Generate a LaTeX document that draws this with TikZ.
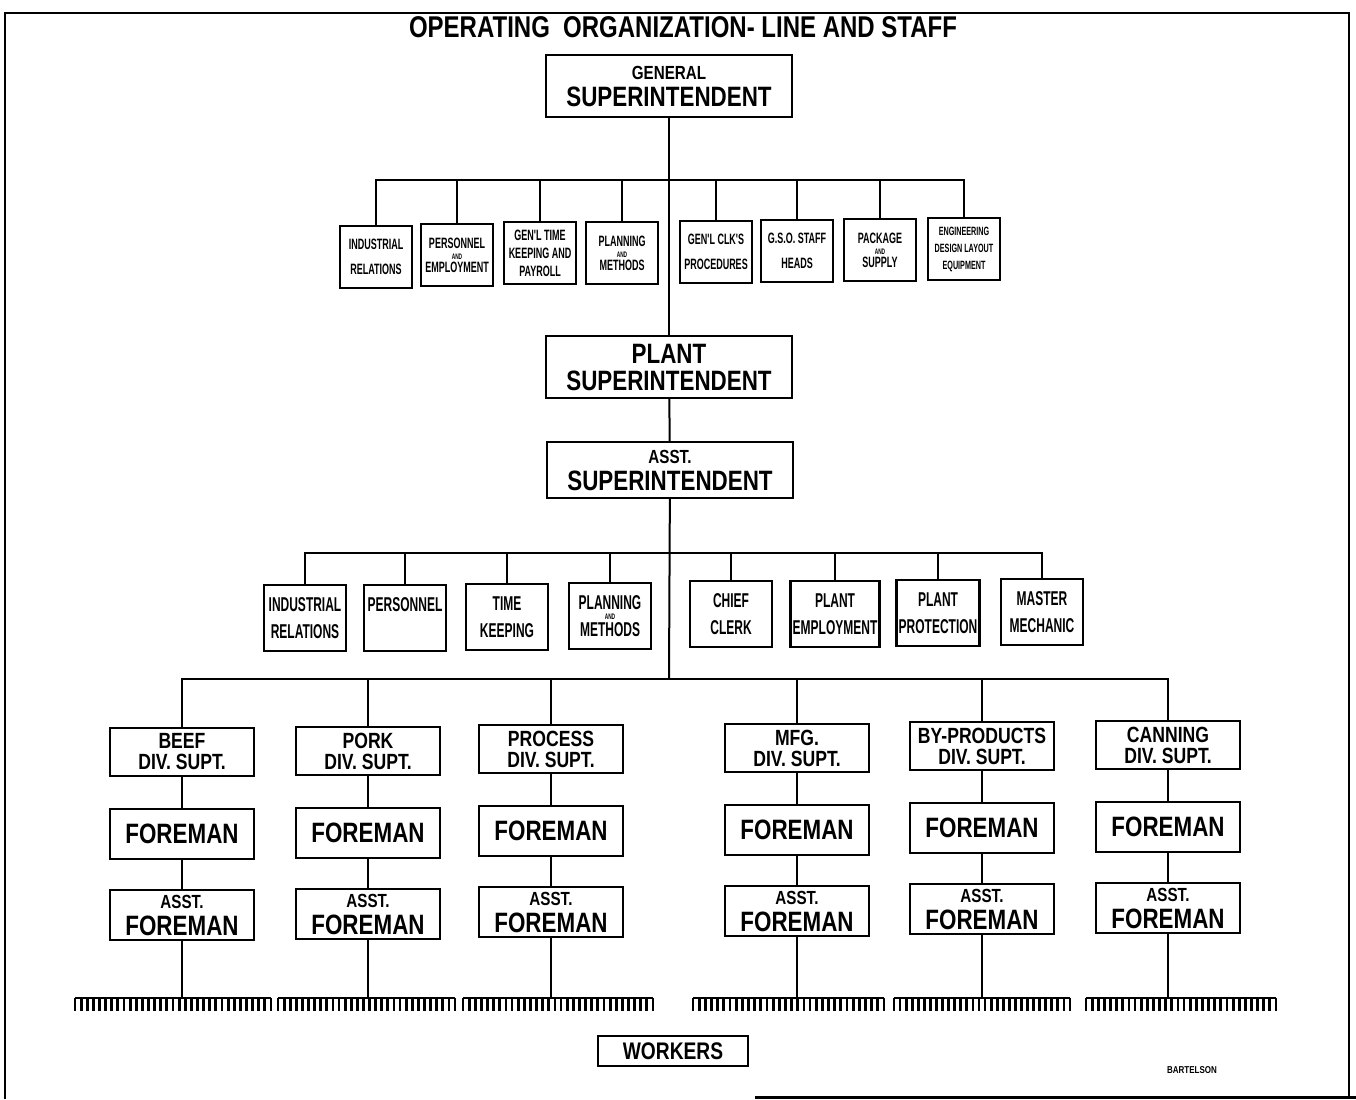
\documentclass[tikz,border=0pt]{standalone}
\usepackage{fontspec}
\setmainfont{Liberation Sans}[FakeStretch=0.8]
\newfontfamily\narrowsf{Liberation Sans}[FakeStretch=0.6]
\usetikzlibrary{positioning}
\newcommand{\andw}{{\fontsize{4}{4}\selectfont AND}}
\newcommand{\hdw}[1]{{\bfseries\fontsize{9.5}{9.5}\selectfont #1}}

\begin{document}
\begin{tikzpicture}[x=0.5pt,y=-0.5pt,
  box/.style={draw,line width=1.2pt,align=center,inner sep=1pt},
  head/.style={box,minimum width=123pt,minimum height=31pt,font=\bfseries\fontsize{14}{13.5}\selectfont},
  staffa/.style={box,minimum width=36pt,minimum height=31pt,font=\narrowsf\bfseries\fontsize{7.5}{12.5}\selectfont},
  staffb/.style={box,minimum width=41pt,minimum height=33pt,font=\narrowsf\bfseries\fontsize{10}{13.5}\selectfont},
  divbox/.style={box,minimum width=72pt,minimum height=24pt,font=\bfseries\fontsize{11}{10.5}\selectfont},
  forebox/.style={box,minimum width=72pt,minimum height=25pt,font=\bfseries\fontsize{14}{13.5}\selectfont},
  conn/.style={line width=1pt},
  comb/.style={line width=1.4pt}]
\useasboundingbox (0,0) rectangle (1356,1099);
% frame
\draw[line width=1.2pt] (5,1099) -- (5,13) -- (1349,13) -- (1349,1099);
\draw[line width=1.5pt] (755,1097) -- (1356,1097);

\node[font=\bfseries\fontsize{15}{15}\selectfont] (title) at (683,27) {OPERATING\ \ ORGANIZATION- LINE AND STAFF};

% line
\node[head] (gs) at (669,86) {\hdw{GENERAL}\\SUPERINTENDENT};
\node[head] (ps) at (669,367) {PLANT\\SUPERINTENDENT};
\node[head,minimum height=28pt] (as) at (670,470) {\hdw{ASST.}\\SUPERINTENDENT};
\draw[conn] (gs) -- (ps);
\draw[conn] (ps) -- (as);

% general staff
\coordinate (bus1) at (669,180);
\node[staffa] (s1) at (376,257) {INDUSTRIAL\\RELATIONS};
\node[staffa] (s2) at (457,255) {PERSONNEL\\[-7pt]\andw\\[-6pt]EMPLOYMENT};
\node[staffa] (s3) at (540,253) {GEN'L TIME\\[-3.5pt]KEEPING AND\\[-3.5pt]PAYROLL};
\node[staffa] (s4) at (622,253) {PLANNING\\[-7pt]\andw\\[-6pt]METHODS};
\node[staffa] (s5) at (716,252) {GEN'L CLK'S\\PROCEDURES};
\node[staffa] (s6) at (797,251) {G.S.O. STAFF\\HEADS};
\node[staffa] (s7) at (880,250) {PACKAGE\\[-7pt]\andw\\[-6pt]SUPPLY};
\node[staffa,font=\narrowsf\bfseries\fontsize{6}{12.5}\selectfont] (s8) at (964,249) {ENGINEERING\\[-4pt]DESIGN LAYOUT\\[-4pt]EQUIPMENT};
\foreach \s in {s1,s2,s3,s4,s5,s6,s7,s8}
  \draw[conn] (\s.north) |- (bus1);

% plant staff
\coordinate (bus2) at (669,553);
\node[staffb] (r1) at (305,618) {INDUSTRIAL\\RELATIONS};
\node[staffb] (r2) at (405,618) {PERSONNEL\\~};
\node[staffb] (r3) at (507,617) {TIME\\KEEPING};
\node[staffb] (r4) at (610,616) {PLANNING\\[-8.5pt]\andw\\[-5pt]METHODS};
\node[staffb] (r5) at (731,614) {CHIEF\\CLERK};
\node[staffb] (r6) at (835,614) {PLANT\\EMPLOYMENT};
\node[staffb] (r7) at (938,613) {PLANT\\PROTECTION};
\node[staffb] (r8) at (1042,612) {MASTER\\MECHANIC};
\foreach \r in {r1,r2,r3,r4,r5,r6,r7,r8}
  \draw[conn] (\r.north) |- (bus2);

% divisions
\coordinate (bus3) at (669,679);
\draw[conn] (as) -- (bus3);
\foreach \i/\x/\dy/\dname in {1/182/0/BEEF,2/368/-1/PORK,3/551/-3/PROCESS,
    4/797/-4/MFG.,5/982/-6/BY-PRODUCTS,6/1168/-7/CANNING}{
  \node[divbox] (d\i) at (\x,752+\dy) {\dname\\DIV. SUPT.};
  \node[forebox] (f\i) at (\x,834+\dy) {FOREMAN};
  \node[forebox] (a\i) at (\x,915+\dy) {\hdw{ASST.}\\FOREMAN};
  \coordinate (w\i) at (\x,998);
  \draw[conn] (d\i.north) |- (bus3);
  \draw[conn] (d\i) -- (f\i);
  \draw[conn] (f\i) -- (a\i);
  \draw[conn] (a\i) -- (w\i);
}

% workers
\foreach \xa/\xb/\n in {75/271/32,278/455/29,463/653/31,693/884/31,894/1070/29,1086/1276/31}{
  \draw[conn] (\xa,998) -- (\xb,998);
  \foreach \k in {0,...,\n}
    \draw[comb] ({\xa+\k*(\xb-\xa)/\n},998) -- ++(0,13);
}
\node[box,minimum width=75pt,minimum height=15pt,font=\bfseries\fontsize{12}{12}\selectfont] (wk) at (673,1051) {WORKERS};
\node[font=\bfseries\fontsize{5}{5}\selectfont] (sig) at (1192,1070) {BARTELSON};
\end{tikzpicture}
\end{document}
